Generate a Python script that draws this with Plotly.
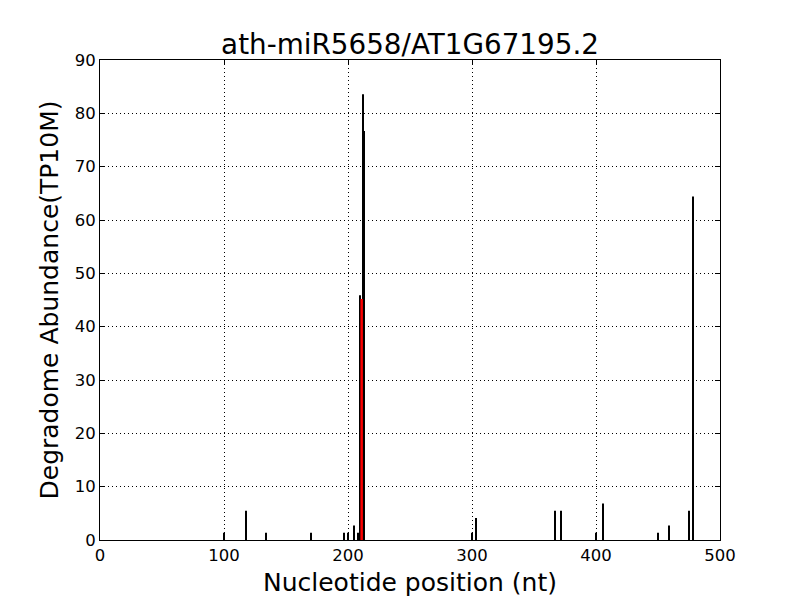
import plotly.graph_objects as go

positions = [100, 118, 134, 170, 197, 200, 205, 208, 210, 211, 212, 213,
             300, 303, 367, 372, 400, 406, 450, 459, 475, 478]
abundance = [1.37, 5.48, 1.37, 1.37, 1.37, 1.37, 2.74, 1.37, 45.9, 45.2, 83.6, 76.7,
             1.37, 4.11, 5.48, 5.48, 1.37, 6.85, 1.37, 2.74, 5.48, 64.4]
cleave_pos = [211]
cleave_val = [45.2]
x_ticks = [0, 100, 200, 300, 400, 500]
y_ticks = [0, 10, 20, 30, 40, 50, 60, 70, 80, 90]

FONT = "DejaVu Sans"

fig = go.Figure()
fig.add_trace(go.Bar(x=positions, y=abundance, width=0.75,
                     marker=dict(color="black", line=dict(width=0))))
fig.add_trace(go.Bar(x=cleave_pos, y=cleave_val, width=2.0,
                     marker=dict(color="#ff0000", line=dict(width=0))))

axis_common = dict(showline=True, linecolor="black", linewidth=1, mirror="allticks",
                   ticks="inside", ticklen=5, tickcolor="black", tickwidth=1,
                   showgrid=True, gridcolor="black", gridwidth=1, griddash="1px,3px",
                   zeroline=False, automargin=False,
                   tickfont=dict(family=FONT, size=16.5, color="black"))

fig.update_layout(
    width=800, height=600,
    barmode="overlay", showlegend=False,
    paper_bgcolor="white", plot_bgcolor="white",
    margin=dict(l=92, r=88, t=52, b=68, autoexpand=False),
    title=dict(text="ath-miR5658/AT1G67195.2", x=0.5025, xanchor="center",
               yref="container", y=0.94, yanchor="middle",
               font=dict(family=FONT, size=27.8, color="black")),
    xaxis=dict(range=[0, 500], tickvals=x_ticks,
               title=dict(text="Nucleotide position (nt)", standoff=9,
                          font=dict(family=FONT, size=25, color="black")),
               **axis_common),
    yaxis=dict(range=[0, 90], tickvals=y_ticks,
               title=dict(text="Degradome Abundance(TP10M)", standoff=8,
                          font=dict(family=FONT, size=25, color="black")),
               **axis_common),
)

fig.write_html("out.html")
